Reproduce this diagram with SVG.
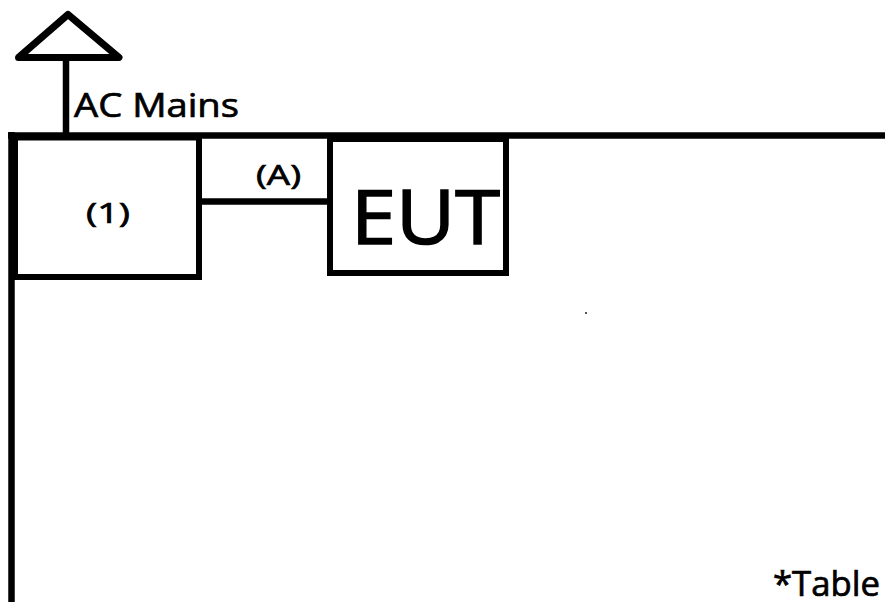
<svg xmlns="http://www.w3.org/2000/svg" width="885" height="602" viewBox="0 0 885 602">
<style>
.ln{stroke:#000;stroke-width:6.5;fill:none;stroke-linecap:butt}
.box{stroke:#000;stroke-width:6;fill:#fff}
.t{font-family:"Open Sans","Liberation Sans",sans-serif;fill:#000;font-weight:normal;stroke:#000;stroke-width:0.7}
</style>
<rect width="885" height="602" fill="#fff"/>
<g id="connectors">
<line class="ln" x1="8" y1="135.5" x2="885" y2="135.5"/>
<line class="ln" x1="11.5" y1="132" x2="11.5" y2="602"/>
<line class="ln" x1="66" y1="57" x2="66" y2="135"/>
<line class="ln" x1="199" y1="201.5" x2="330" y2="201.5" stroke-width="6"/>
<text class="t" x="256" y="185" font-size="28" textLength="45" lengthAdjust="spacingAndGlyphs">(A)</text>
</g>
<g id="ac-mains">
<polygon points="68,14.5 119,57.5 18.5,57.5" fill="#fff" stroke="#000" stroke-width="7" stroke-linejoin="round"/>
<text class="t" x="74" y="117" font-size="33" textLength="165" lengthAdjust="spacingAndGlyphs">AC Mains</text>
</g>
<g id="node1">
<rect class="box" x="15" y="137.5" width="184" height="139.5"/>
<text class="t" x="86" y="223" font-size="28" textLength="44" lengthAdjust="spacingAndGlyphs">(1)</text>
</g>
<g id="eut">
<rect class="box" x="330" y="139" width="176" height="134"/>
<text class="t" x="351" y="243.5" font-size="75" textLength="149" lengthAdjust="spacingAndGlyphs" style="stroke-width:1.6">EUT</text>
</g>
<g id="note">
<text class="t" x="773" y="596" font-size="34" textLength="107" lengthAdjust="spacingAndGlyphs">*Table</text>
</g>
<rect x="585" y="312" width="2" height="2" fill="#555"/>
</svg>
